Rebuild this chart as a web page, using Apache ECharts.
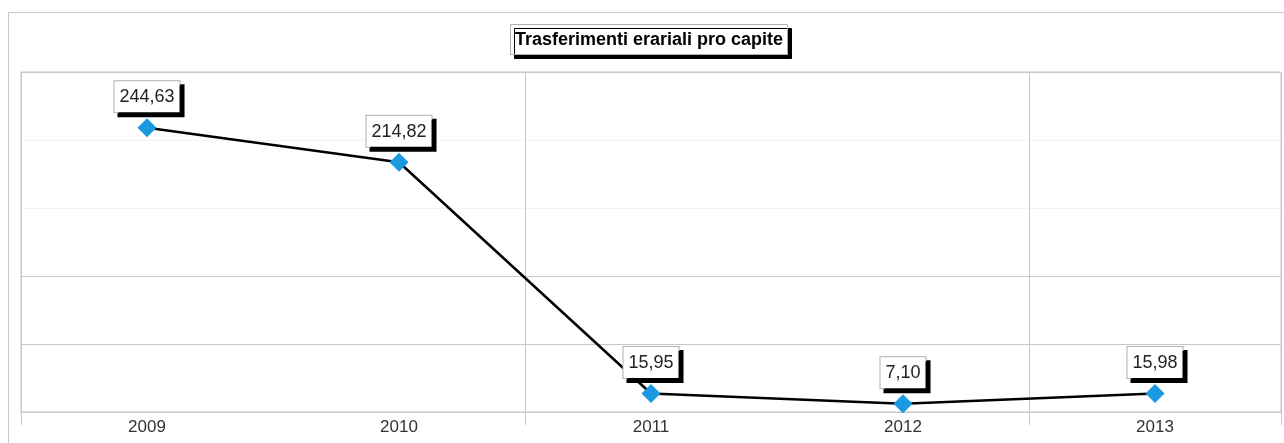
<!DOCTYPE html>
<html>
<head>
<meta charset="utf-8">
<title>Trasferimenti erariali pro capite</title>
<script src="https://cdn.jsdelivr.net/npm/echarts@6/dist/echarts.min.js"></script>
<style>
  html, body { margin: 0; padding: 0; background: #fff; }
  #chart { width: 1284px; height: 443px; }
</style>
</head>
<body>
<div id="chart"></div>
<script>
// dati del grafico
var anni = ['2009', '2010', '2011', '2012', '2013']
var valori = [244.63, 214.82, 15.95, 7.10, 15.98]
var titolo = 'Trasferimenti erariali pro capite'

// colori
var grigio = '#c8c8c8'
var font = 'Liberation Sans, Arial, sans-serif'

// formato italiano: virgola decimale
function formatta(v) {
  return v.toFixed(2).replace('.', ',')
}

var chart = echarts.init(document.getElementById('chart'), null, { renderer: 'canvas' })

var option = {
  animation: false,
  backgroundColor: '#fff',
  title: {
    text: titolo,
    left: 510,
    top: 24,
    padding: [7, 5, 6, 5],
    backgroundColor: '#fff',
    borderColor: '#b0b0b0',
    borderWidth: 1,
    shadowColor: '#000',
    shadowBlur: 0,
    shadowOffsetX: 4,
    shadowOffsetY: 4,
    textStyle: {
      fontFamily: font,
      fontSize: 18,
      fontWeight: 'bold',
      color: '#000'
    }
  },
  // bordo esterno
  graphic: [{
    type: 'rect',
    shape: { x: 8.5, y: 12.5, width: 1400, height: 600 },
    style: { fill: null, stroke: grigio, lineWidth: 1 },
    z: -1
  }],
  grid: {
    left: 21,
    right: 3,
    top: 72,
    bottom: 31,
    show: true,
    borderColor: grigio,
    borderWidth: 1
  },
  xAxis: {
    type: 'category',
    data: anni,
    boundaryGap: true,
    axisLine: { lineStyle: { color: grigio, width: 1 } },
    axisTick: { show: true, interval: 1, length: 13, lineStyle: { color: grigio } },
    axisLabel: { margin: 7, fontFamily: font, fontSize: 17, color: '#333' },
    splitLine: { show: true, interval: 1, lineStyle: { color: grigio, width: 1 } }
  },
  yAxis: {
    type: 'value',
    min: 0,
    max: 292.5,
    interval: 58.5,
    axisLine: { show: false },
    axisTick: { show: false },
    axisLabel: { show: false },
    splitLine: {
      show: true,
      lineStyle: {
        color: [grigio, grigio, grigio, '#f3f3f3', '#f3f3f3', grigio],
        width: 1
      }
    }
  },
  series: [{
    type: 'line',
    data: valori,
    symbol: 'diamond',
    symbolSize: 19,
    lineStyle: { color: '#000', width: 2.5 },
    itemStyle: { color: '#1b9ae2' },
    label: {
      show: true,
      position: 'top',
      distance: 6,
      formatter: function (p) { return formatta(p.value) },
      fontFamily: font,
      fontSize: 18,
      color: '#222',
      backgroundColor: '#fff',
      borderColor: '#b0b0b0',
      borderWidth: 1,
      padding: [7, 5, 6, 5],
      shadowColor: '#000',
      shadowBlur: 0,
      shadowOffsetX: 4,
      shadowOffsetY: 4
    },
    z: 3
  }]
}

chart.setOption(option)
</script>
</body>
</html>
